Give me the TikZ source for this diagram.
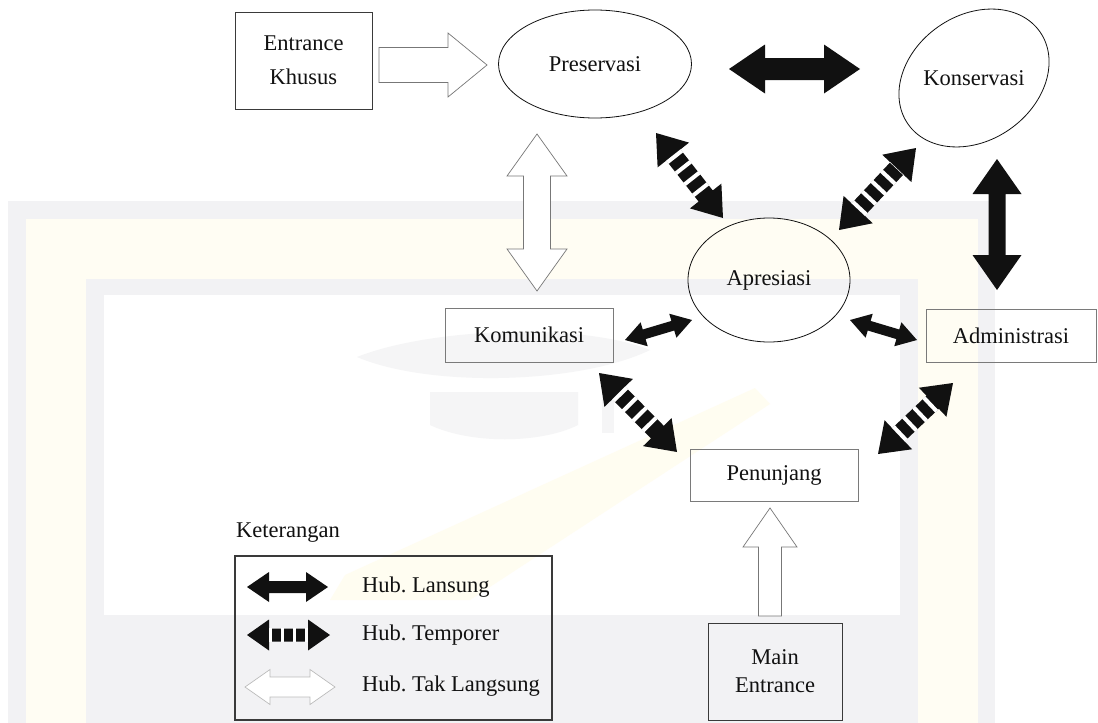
\documentclass[tikz,border=0pt]{standalone}
\usepackage{fontspec}
\setmainfont{Liberation Serif}
\usetikzlibrary{calc,shapes.geometric}
\frenchspacing

\definecolor{ink}{HTML}{111111}
\definecolor{boxgray}{HTML}{7A7A7A}
\definecolor{boxdark}{HTML}{3A3A3A}
\definecolor{arrgray}{HTML}{777777}
\definecolor{legendgray}{HTML}{BBBBBB}
\definecolor{wmgray}{HTML}{F2F2F4}
\definecolor{wmcream}{HTML}{FFFDF3}
\definecolor{wmhat}{HTML}{F5F5F6}
\definecolor{wmfeather}{HTML}{FFFDF1}

% double-headed block arrow: style, from, to, shaft half-width, head half-width, head length
\newcommand\dblarrow[6]{%
  \path[#1] (#2)
    -- ($(#2)!#6!(#3)!#5!90:(#3)$)
    -- ($(#2)!#6!(#3)!#4!90:(#3)$)
    -- ($(#3)!#6!(#2)!#4!-90:(#2)$)
    -- ($(#3)!#6!(#2)!#5!-90:(#2)$)
    -- (#3)
    -- ($(#3)!#6!(#2)!#5!90:(#2)$)
    -- ($(#3)!#6!(#2)!#4!90:(#2)$)
    -- ($(#2)!#6!(#3)!#4!-90:(#3)$)
    -- ($(#2)!#6!(#3)!#5!-90:(#3)$)
    -- cycle;}

% single-headed block arrow pointing at the second point
\newcommand\sglarrow[6]{%
  \path[#1] ($(#2)!#4!90:(#3)$)
    -- ($(#3)!#6!(#2)!#4!-90:(#2)$)
    -- ($(#3)!#6!(#2)!#5!-90:(#2)$)
    -- (#3)
    -- ($(#3)!#6!(#2)!#5!90:(#2)$)
    -- ($(#3)!#6!(#2)!#4!90:(#2)$)
    -- ($(#2)!#4!-90:(#3)$)
    -- cycle;}

% temporary link: solid double arrow whose shaft is cut by white stripes
% dash pattern, from, to, shaft half-width, head half-width, head length, stripe length
\newcommand\tmparrow[7]{%
  \dblarrow{solidarr}{#2}{#3}{#4}{#5}{#6}
  \draw[white, line width=#7, dash pattern=#1]
    ($(#2)!#6!(#3)$) -- ($(#3)!#6!(#2)$);}

\tikzset{
  lbl/.style={font=\fontsize{22.5}{28}\selectfont, text=ink, align=center, inner sep=0pt},
  sqbox/.style={lbl, draw=#1, line width=0.8pt, rectangle},
  oval/.style={lbl, draw=ink, line width=0.8pt, ellipse},
  solidarr/.style={fill=ink},
  hollowarr/.style={draw=#1, fill=white, line width=0.7pt, line join=miter},
}

\begin{document}
\begin{tikzpicture}[x=1pt, y=-1pt]
\useasboundingbox (0,0) rectangle (1098,723);

% ---- faint background frame and emblem ----
\fill[wmgray]  (8,201)   rectangle (995,723);
\fill[wmcream] (26,219)  rectangle (978,723);
\fill[wmgray]  (86,279)  rectangle (918,723);
\fill[white]   (104,295) rectangle (900,615);
\fill[wmfeather] (330,600) -- (345,575) -- (755,388) -- (770,404) -- (470,600) -- cycle;
\fill[wmhat] (357,357) .. controls (430,328) and (580,322) .. (650,350)
             .. controls (580,384) and (430,388) .. cycle;
\fill[wmhat] (430,392) -- (578,392) -- (578,425) .. controls (540,444) and (470,444) .. (430,425) -- cycle;
\fill[wmhat] (602,390) rectangle (614,433);

% ---- nodes ----
\node[sqbox=boxdark, minimum width=137pt, minimum height=97pt] (ek) at (303.5,60.5) {Entrance\\[6pt]Khusus};
\node[oval, minimum width=193pt, minimum height=108pt] (pres) at (595,64) {Preservasi};
\node[lbl] (kon) at (974,78) {Konservasi};
\draw[line width=0.8pt, draw=ink, rotate around={35:(kon.center)}]
  (kon.center) ellipse [x radius=80.5pt, y radius=62.5pt];
\node[oval, minimum width=162pt, minimum height=124pt] (apr) at (769,280) {Apresiasi};
\node[sqbox=boxgray, minimum width=168pt, minimum height=54pt] (kom) at (529,335) {Komunikasi};
\node[sqbox=boxgray, minimum width=170pt, minimum height=53pt] (adm) at (1011,335.5) {Administrasi};
\node[sqbox=boxgray, minimum width=168pt, minimum height=52pt] (pen) at (774,475) {Penunjang};
\node[sqbox=boxdark, minimum width=134pt, minimum height=97pt] (me) at (775,671.5) {Main\\Entrance};

% ---- arrow end points ----
\coordinate (ekA)  at (379,65);   \coordinate (presA) at (487,65);
\coordinate (presB) at (729,69);  \coordinate (konB)  at (860,69);
\coordinate (presC) at (537,134); \coordinate (komC)  at (537,291);
\coordinate (presD) at (656,133); \coordinate (aprD)  at (723,218);
\coordinate (aprE)  at (839,230); \coordinate (konE)  at (916,148);
\coordinate (konF)  at (997,159); \coordinate (admF)  at (997,290);
\coordinate (komG)  at (625,340); \coordinate (aprG)  at (692,320);
\coordinate (aprH)  at (850,320); \coordinate (admH)  at (917,340);
\coordinate (komI)  at (599,373); \coordinate (penI)  at (677,452);
\coordinate (penJ)  at (878,454); \coordinate (admJ)  at (953,383);
\coordinate (meK)   at (770,616); \coordinate (penK)  at (770,508);

% ---- links ----
\sglarrow{hollowarr=arrgray}{ekA}{presA}{17.5pt}{32pt}{39pt}
\dblarrow{solidarr}{presB}{konB}{11pt}{24.5pt}{36pt}
\dblarrow{hollowarr=arrgray}{presC}{komC}{13.5pt}{30pt}{42pt}
\tmparrow{on 4pt off 10pt}{presD}{aprD}{9pt}{20pt}{28pt}{18.6pt}
\tmparrow{on 4pt off 10pt}{aprE}{konE}{9pt}{20pt}{28pt}{18.6pt}
\dblarrow{solidarr}{konF}{admF}{8.5pt}{24.5pt}{35pt}
\dblarrow{solidarr}{komG}{aprG}{5pt}{12.5pt}{20pt}
\dblarrow{solidarr}{aprH}{admH}{5pt}{12.5pt}{20pt}
\tmparrow{on 4pt off 10pt}{komI}{penI}{9pt}{20pt}{28pt}{18.6pt}
\tmparrow{on 4pt off 10pt}{penJ}{admJ}{9pt}{20pt}{28pt}{18.6pt}
\sglarrow{hollowarr=arrgray}{meK}{penK}{11.5pt}{27pt}{39pt}

% ---- legend ----
\node[lbl, anchor=west] (ket) at (236,533) {Keterangan};
\node[draw=boxdark, line width=1.2pt, minimum width=317pt, minimum height=164pt, inner sep=0pt] (leg) at (393.5,638) {};
\coordinate (l1a) at (247,587); \coordinate (l1b) at (328,587);
\coordinate (l2a) at (247,635); \coordinate (l2b) at (330,635);
\coordinate (l3a) at (245,687); \coordinate (l3b) at (335,687);
\dblarrow{solidarr}{l1a}{l1b}{6pt}{15pt}{22pt}
\tmparrow{on 3pt off 9pt}{l2a}{l2b}{6.5pt}{15.5pt}{22pt}{13.6pt}
\dblarrow{hollowarr=legendgray}{l3a}{l3b}{10pt}{17.5pt}{25pt}
\node[lbl, anchor=west] (t1) at (362,587) {Hub. Lansung};
\node[lbl, anchor=west] (t2) at (362,635) {Hub. Temporer};
\node[lbl, anchor=west] (t3) at (362,686) {Hub. Tak Langsung};
\end{tikzpicture}
\end{document}
